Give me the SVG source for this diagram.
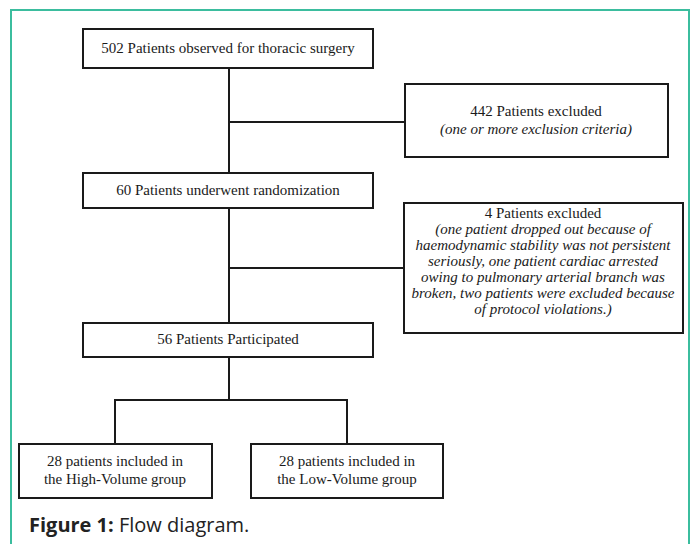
<svg xmlns="http://www.w3.org/2000/svg" width="692" height="544" viewBox="0 0 692 544">
<style>
.box{fill:#fff;stroke:#1a1a1a;stroke-width:2}
.ln{stroke:#1a1a1a;stroke-width:2;fill:none}
.t{font-family:"Liberation Serif","Times New Roman",serif;font-size:15px;fill:#1a1a1a;text-anchor:middle}
.i{font-style:italic}
.cap{font-family:"Open Sans","Noto Sans",sans-serif;font-size:20px;fill:#222}
</style>
<rect x="0" y="0" width="692" height="544" fill="#fff"/>
<rect x="11" y="10" width="678" height="560" fill="none" stroke="#3bbd9e" stroke-width="2"/>
<g id="connectors">
<line class="ln" x1="229" y1="68" x2="229" y2="173"/>
<line class="ln" x1="229" y1="122" x2="405" y2="122"/>
<line class="ln" x1="229" y1="208" x2="229" y2="323"/>
<line class="ln" x1="229" y1="268" x2="404" y2="268"/>
<line class="ln" x1="229" y1="357" x2="229" y2="400"/>
<line class="ln" x1="114" y1="400" x2="348" y2="400"/>
<line class="ln" x1="115" y1="400" x2="115" y2="444"/>
<line class="ln" x1="347" y1="400" x2="347" y2="444"/>
</g>
<g id="n1">
<rect class="box" x="83" y="29" width="290" height="39"/>
<text class="t" x="228" y="53">502 Patients observed for thoracic surgery</text>
</g>
<g id="n2">
<rect class="box" x="405" y="84" width="263" height="73"/>
<text class="t" x="536" y="116">442 Patients excluded</text>
<text class="t i" x="536" y="134">(one or more exclusion criteria)</text>
</g>
<g id="n3">
<rect class="box" x="83" y="173" width="290" height="35"/>
<text class="t" x="228" y="195">60 Patients underwent randomization</text>
</g>
<g id="n4">
<rect class="box" x="404" y="203" width="279" height="130"/>
<text class="t" x="543" y="218">4 Patients excluded</text>
<text class="t i" x="543" y="234">(one patient dropped out because of</text>
<text class="t i" x="543" y="250">haemodynamic stability was not persistent</text>
<text class="t i" x="543" y="266">seriously, one patient cardiac arrested</text>
<text class="t i" x="543" y="282">owing to pulmonary arterial branch was</text>
<text class="t i" x="543" y="298">broken, two patients were excluded because</text>
<text class="t i" x="543" y="314">of protocol violations.)</text>
</g>
<g id="n5">
<rect class="box" x="83" y="323" width="290" height="34"/>
<text class="t" x="228" y="344">56 Patients Participated</text>
</g>
<g id="n6">
<rect class="box" x="19" y="444" width="193" height="54"/>
<text class="t" x="115" y="466">28 patients included in</text>
<text class="t" x="115" y="484">the High-Volume group</text>
</g>
<g id="n7">
<rect class="box" x="251" y="444" width="192" height="54"/>
<text class="t" x="347" y="466">28 patients included in</text>
<text class="t" x="347" y="484">the Low-Volume group</text>
</g>
<text class="cap" x="29" y="532"><tspan font-weight="bold">Figure 1:</tspan> Flow diagram.</text>
</svg>
